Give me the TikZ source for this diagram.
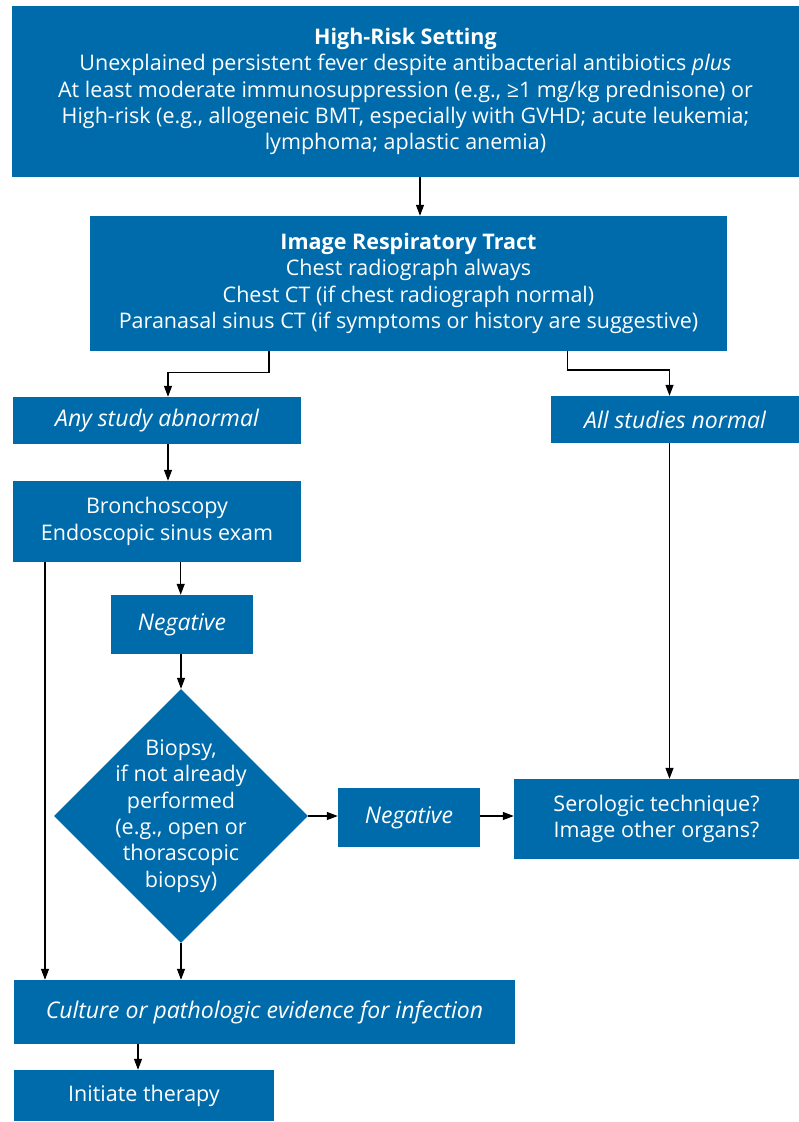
\documentclass[tikz,border=0pt]{standalone}
\usepackage{fontspec}
\setmainfont{Open Sans}
\usetikzlibrary{arrows.meta,shapes.geometric,calc}
\definecolor{boxblue}{RGB}{0,107,170}
\begin{document}
\begin{tikzpicture}[x=1pt,y=-1pt,
  box/.style={fill=boxblue, text=white, inner sep=0pt, align=center,
    font=\fontsize{21.5}{26.3}\selectfont},
  ibox/.style={box, font=\fontsize{23}{26.3}\selectfont\itshape},
  txt/.style={text=white, inner sep=0pt, align=center,
    font=\fontsize{21.5}{26.3}\selectfont},
  arr/.style={draw=black, line width=1.2pt, -{Triangle[length=11pt,width=8pt]}}]
\useasboundingbox (0,0) rectangle (799,1122);
\fill[white] (0,0) rectangle (799,1122);

\node[box, minimum width=787pt, minimum height=171pt] (top) at (405.5,91.5)
  {\textbf{High-Risk Setting}\\
   Unexplained persistent fever despite antibacterial antibiotics \textit{plus}\\
   At least moderate immunosuppression (e.g., ≥1 mg/kg prednisone) or\\
   High-risk (e.g., allogeneic BMT, especially with GVHD; acute leukemia;\\
   lymphoma; aplastic anemia)};

\node[box, minimum width=637pt, minimum height=135pt] (img) at (408.5,283.5)
  {\textbf{Image Respiratory Tract}\\
   Chest radiograph always\\
   Chest CT (if chest radiograph normal)\\
   Paranasal sinus CT (if symptoms or history are suggestive)};

\node[ibox, minimum width=288pt, minimum height=47pt] (any) at (157,420.5)
  {Any study abnormal};
\node[ibox, minimum width=248pt, minimum height=47pt] (all) at (675,419.5)
  {All studies normal};
\node[box, minimum width=288pt, minimum height=81pt] (bron) at (157,521.5)
  {Bronchoscopy\\Endoscopic sinus exam};
\node[ibox, minimum width=142pt, minimum height=59pt] (neg1) at (182,624.5)
  {Negative};
\node[box, diamond, aspect=1, minimum width=254pt, minimum height=254pt] (dia) at (181,816) {};
\node[txt] (diatxt) at (dia.center)
  {Biopsy,\\if not already\\performed\\(e.g., open or\\thorascopic\\biopsy)};
\node[ibox, minimum width=142pt, minimum height=59pt] (neg2) at (409,817.5)
  {Negative};
\node[box, minimum width=285pt, minimum height=80pt] (sero) at (656.5,819)
  {Serologic technique?\\Image other organs?};
\node[ibox, minimum width=501pt, minimum height=64pt] (cult) at (264.5,1012)
  {Culture or pathologic evidence for infection};
\node[box, minimum width=260pt, minimum height=51pt] (init) at (144,1095.5)
  {Initiate therapy};

\coordinate (a1) at (420,0);
\coordinate (l1) at (269,372.7);
\coordinate (l2) at (168,0);
\coordinate (r1) at (567.6,370);
\coordinate (r2) at (669.5,0);
\coordinate (b1) at (180.7,0);
\coordinate (b2) at (45,0);
\coordinate (ci) at (138,0);

\draw[arr] (top.south -| a1) -- (img.north -| a1);
\draw[arr] (img.south -| l1) |- (l2 |- l1) -- (any.north -| l2);
\draw[arr] (img.south -| r1) |- (r2 |- r1) -- (all.north -| r2);
\draw[arr] (any.south -| l2) -- (bron.north -| l2);
\draw[arr] (bron.south -| b1) -- (neg1.north -| b1);
\draw[arr] (neg1.south -| dia.north) -- (dia.north);
\draw[arr] (dia.east) -- (neg2.west |- dia.east);
\draw[arr] (neg2.east |- dia.east) -- (sero.west |- dia.east);
\draw[arr] (all.south -| r2) -- (sero.north -| r2);
\draw[arr] (bron.south -| b2) -- (cult.north -| b2);
\draw[arr] (dia.south) -- (cult.north -| dia.south);
\draw[arr] (cult.south -| ci) -- (init.north -| ci);
\end{tikzpicture}
\end{document}
